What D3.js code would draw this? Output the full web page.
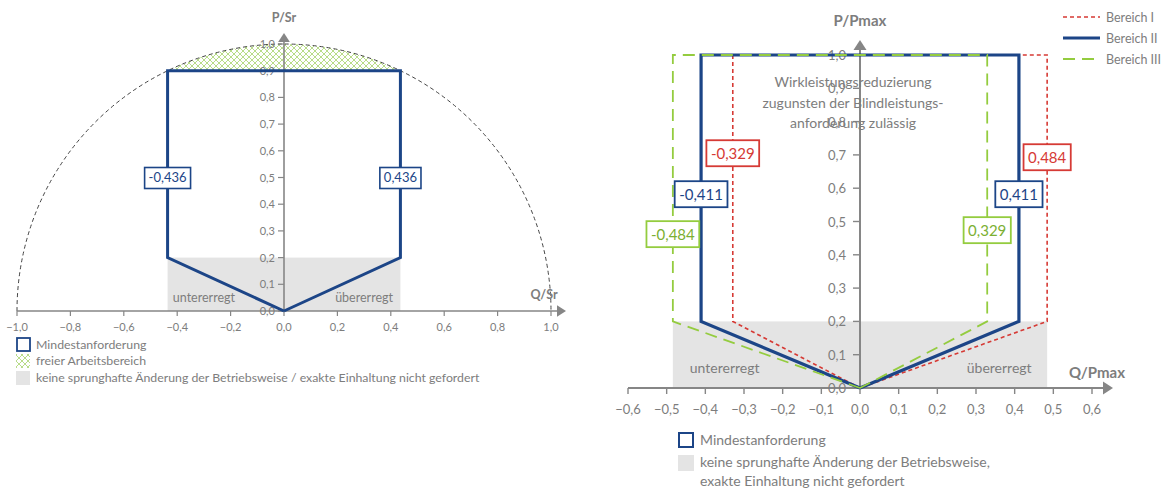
<!DOCTYPE html>
<html><head><meta charset="utf-8">
<script src="https://cdn.jsdelivr.net/npm/d3@7"></script>
<style>
html,body{margin:0;padding:0;background:#fff;}
svg text{font-family:Lato,"Open Sans",sans-serif;}
</style></head>
<body>
<svg id="c" width="1164" height="488"></svg>
<script>
// ---------- data ----------
const leftXTicks = [-1.0,-0.8,-0.6,-0.4,-0.2,0.0,0.2,0.4,0.6,0.8,1.0];
const leftYTicks = [0.0,0.1,0.2,0.3,0.4,0.5,0.6,0.7,0.8,0.9,1.0];
const rightXTicks = [-0.6,-0.5,-0.4,-0.3,-0.2,-0.1,0.0,0.1,0.2,0.3,0.4,0.5,0.6];
const rightYTicks = [0.0,0.1,0.2,0.3,0.4,0.5,0.6,0.7,0.8,0.9,1.0];

const minReqLeft = [[0,0],[-0.436,0.2],[-0.436,0.9],[0.436,0.9],[0.436,0.2],[0,0]];
const grayLeft = [[-0.436,0],[0.436,0.2]];
const hatchLeft = {q:0.436, p:0.9};
const labelsLeft = [{q:-0.436,p:0.5,t:"-0,436"},{q:0.436,p:0.5,t:"0,436"}];

const bereichI   = [[0,0],[-0.329,0.2],[-0.329,1.0],[0.484,1.0],[0.484,0.2],[0,0]];
const bereichII  = [[0,0],[-0.411,0.2],[-0.411,1.0],[0.411,1.0],[0.411,0.2],[0,0]];
const bereichIII = [[0,0],[-0.484,0.2],[-0.484,1.0],[0.329,1.0],[0.329,0.2],[0,0]];
const grayRight = [[-0.484,0],[0.484,0.2]];
const labelsRight = [
  {q:-0.329,p:0.705,t:"-0,329",s:"I"},
  {q:0.484,p:0.693,t:"0,484",s:"I"},
  {q:-0.411,p:0.582,t:"-0,411",s:"II"},
  {q:0.411,p:0.582,t:"0,411",s:"II"},
  {q:-0.484,p:0.462,t:"-0,484",s:"III"},
  {q:0.329,p:0.474,t:"0,329",s:"III"}
];
const seriesNames = ["Bereich I","Bereich II","Bereich III"];
const annotation = ["Wirkleistungsreduzierung","zugunsten der Blindleistungs-","anforderung zulässig"];

// ---------- styles ----------
const BLUE="#1c4587", RED="#d63a35", GREEN="#94cc3f", GREENT="#7cb032";
const GRAYF="#e4e4e4", TXT="#7d7d7d", AX="#868686";
const sty = {
  "I":  {c:RED,  w:1.6, d:"4,3", tc:RED},
  "II": {c:BLUE, w:3.2, d:null, tc:BLUE},
  "III":{c:GREEN,w:1.8, d:"12,7", tc:GREENT}
};

const svg = d3.select("#c");
const fmt = v => d3.format(".1f")(v).replace(".",",").replace("-0,0","0,0");

const defs = svg.append("defs");
const pat = defs.append("pattern").attr("id","hatch").attr("patternUnits","userSpaceOnUse")
  .attr("width",6).attr("height",6);
pat.append("path").attr("d","M0,0L6,6M6,0L0,6").attr("stroke","#b0d87c").attr("stroke-width",0.9).attr("fill","none");

function arrowHead(g, x, y, dir, size, col){
  const s=size;
  let pts = dir==="up" ? [[x,y],[x-s*0.65,y+s],[x+s*0.65,y+s]] : [[x,y],[x-s,y-s*0.65],[x-s,y+s*0.65]];
  g.append("path").attr("d","M"+pts.map(p=>p.join(",")).join("L")+"Z").attr("fill",col);
}

// ================= LEFT CHART =================
const xL = d3.scaleLinear().domain([-1,1]).range([17,551]);
const yL = d3.scaleLinear().domain([0,1]).range([311,44]);
const gL = svg.append("g");
const line = (xs,ys)=>d3.line().x(d=>xs(d[0])).y(d=>ys(d[1]));

gL.append("rect").attr("x",xL(grayLeft[0][0])).attr("y",yL(grayLeft[1][1]))
  .attr("width",xL(grayLeft[1][0])-xL(grayLeft[0][0])).attr("height",yL(0)-yL(grayLeft[1][1]))
  .attr("fill",GRAYF);

const r = xL(1)-xL(0);
const a0 = Math.atan2(-hatchLeft.p, -hatchLeft.q), a1 = Math.atan2(-hatchLeft.p, hatchLeft.q);
const hp = d3.path();
hp.moveTo(xL(-hatchLeft.q), yL(hatchLeft.p));
hp.arc(xL(0), yL(0), r, a0, a1, false);
hp.closePath();
gL.append("path").attr("d",hp.toString()).attr("fill","url(#hatch)");

const cp = d3.path();
cp.moveTo(xL(-1),yL(0)); cp.arc(xL(0),yL(0),r,Math.PI,2*Math.PI,false);
gL.append("path").attr("d",cp.toString()).attr("fill","none").attr("stroke","#444").attr("stroke-width",1).attr("stroke-dasharray","4,3");

gL.append("line").attr("x1",xL(-1)).attr("x2",558).attr("y1",yL(0)).attr("y2",yL(0)).attr("stroke",AX).attr("stroke-width",1.6);
arrowHead(gL,566,yL(0),"right",9,AX);
gL.append("line").attr("x1",xL(0)).attr("x2",xL(0)).attr("y1",yL(0)).attr("y2",41).attr("stroke",AX).attr("stroke-width",1.6);
arrowHead(gL,xL(0),33,"up",9,AX);
gL.selectAll(".xt").data(leftXTicks).join("line").attr("x1",d=>xL(d)).attr("x2",d=>xL(d)).attr("y1",yL(0)).attr("y2",yL(0)+5).attr("stroke",AX).attr("stroke-width",1.2);
gL.selectAll(".xl").data(leftXTicks).join("text").attr("x",d=>xL(d)).attr("y",yL(0)+20).attr("text-anchor","middle").attr("font-size",11).attr("fill",TXT).text(fmt);
gL.selectAll(".yt").data(leftYTicks).join("line").attr("x1",xL(0)-6).attr("x2",xL(0)).attr("y1",d=>yL(d)).attr("y2",d=>yL(d)).attr("stroke",AX).attr("stroke-width",1.2);
gL.selectAll(".yl").data(leftYTicks).join("text").attr("x",xL(0)-9).attr("y",d=>yL(d)+4).attr("text-anchor","end").attr("font-size",11).attr("fill",TXT).text(fmt);
gL.append("text").attr("x",xL(0)).attr("y",22).attr("text-anchor","middle").attr("font-size",12.5).attr("font-weight","bold").attr("fill",TXT).text("P/Sr");
gL.append("text").attr("x",544).attr("y",299).attr("text-anchor","middle").attr("font-size",12.5).attr("font-weight","bold").attr("fill",TXT).text("Q/Sr");

gL.append("path").datum(minReqLeft).attr("d",line(xL,yL)).attr("fill","none").attr("stroke",BLUE).attr("stroke-width",3).attr("stroke-linejoin","miter");

labelsLeft.forEach(l=>{
  const g=gL.append("g").attr("transform",`translate(${xL(l.q)},${yL(l.p)})`);
  const t=g.append("text").attr("text-anchor","middle").attr("y",4.5).attr("font-size",13).attr("fill",BLUE).text(l.t);
  const w=t.node().getComputedTextLength()+8;
  g.insert("rect","text").attr("x",-w/2).attr("y",-10).attr("width",w).attr("height",21).attr("fill","#fff").attr("stroke",BLUE).attr("stroke-width",1.6);
});
gL.append("text").attr("x",xL(-0.3)).attr("y",yL(0.033)).attr("text-anchor","middle").attr("font-size",12.5).attr("fill",TXT).text("untererregt");
gL.append("text").attr("x",xL(0.3)).attr("y",yL(0.033)).attr("text-anchor","middle").attr("font-size",12.5).attr("fill",TXT).text("übererregt");

const lg = gL.append("g").attr("transform","translate(16,337)");
lg.append("rect").attr("x",1).attr("y",1).attr("width",13).attr("height",13).attr("fill","#fff").attr("stroke",BLUE).attr("stroke-width",1.8);
lg.append("text").attr("x",20).attr("y",12).attr("font-size",12.3).attr("fill",TXT).text("Mindestanforderung");
lg.append("rect").attr("x",0).attr("y",17).attr("width",14).attr("height",14).attr("fill","url(#hatch)");
lg.append("text").attr("x",20).attr("y",28).attr("font-size",12.3).attr("fill",TXT).text("freier Arbeitsbereich");
lg.append("rect").attr("x",0).attr("y",34).attr("width",14).attr("height",14).attr("fill",GRAYF);
lg.append("text").attr("x",20).attr("y",45).attr("font-size",12.3).attr("fill",TXT).text("keine sprunghafte Änderung der Betriebsweise / exakte Einhaltung nicht gefordert");

// ================= RIGHT CHART =================
const xR = d3.scaleLinear().domain([-0.6,0.6]).range([628,1092]);
const yR = d3.scaleLinear().domain([0,1]).range([388,55]);
const gR = svg.append("g");
gR.append("rect").attr("x",xR(grayRight[0][0])).attr("y",yR(grayRight[1][1]))
  .attr("width",xR(grayRight[1][0])-xR(grayRight[0][0])).attr("height",yR(0)-yR(grayRight[1][1])).attr("fill",GRAYF);

gR.append("line").attr("x1",xR(-0.6)).attr("x2",1104).attr("y1",yR(0)).attr("y2",yR(0)).attr("stroke",AX).attr("stroke-width",2);
arrowHead(gR,1113,yR(0),"right",10,AX);
gR.append("line").attr("x1",xR(0)).attr("x2",xR(0)).attr("y1",yR(0)).attr("y2",49).attr("stroke",AX).attr("stroke-width",2);
arrowHead(gR,xR(0),40,"up",10,AX);
gR.selectAll(".xt").data(rightXTicks).join("line").attr("x1",d=>xR(d)).attr("x2",d=>xR(d)).attr("y1",yR(0)).attr("y2",yR(0)+6).attr("stroke",AX).attr("stroke-width",1.4);
gR.selectAll(".xl").data(rightXTicks).join("text").attr("x",d=>xR(d)).attr("y",yR(0)+26).attr("text-anchor","middle").attr("font-size",13).attr("fill",TXT).text(fmt);
gR.selectAll(".yt").data(rightYTicks).join("line").attr("x1",xR(0)-7).attr("x2",xR(0)).attr("y1",d=>yR(d)).attr("y2",d=>yR(d)).attr("stroke",AX).attr("stroke-width",1.4);
gR.selectAll(".yl").data(rightYTicks).join("text").attr("x",xR(0)-14).attr("y",d=>yR(d)+5).attr("text-anchor","end").attr("font-size",13).attr("fill",TXT).text(fmt);
gR.append("text").attr("x",xR(0)).attr("y",26).attr("text-anchor","middle").attr("font-size",15).attr("font-weight","bold").attr("fill",TXT).text("P/Pmax");
gR.append("text").attr("x",1097).attr("y",378).attr("text-anchor","middle").attr("font-size",15).attr("font-weight","bold").attr("fill",TXT).text("Q/Pmax");

[["I",bereichI],["II",bereichII],["III",bereichIII]].forEach(([k,d])=>{
  const s=sty[k];
  gR.append("path").datum(d).attr("d",line(xR,yR)).attr("fill","none").attr("stroke",s.c).attr("stroke-width",s.w)
    .attr("stroke-dasharray",s.d).attr("stroke-linejoin","miter");
});

gR.append("g").selectAll("text").data(annotation).join("text").attr("x",853).attr("y",(d,i)=>87+i*20.5)
  .attr("text-anchor","middle").attr("font-size",14).attr("fill",TXT).text(d=>d);

labelsRight.forEach(l=>{
  const s=sty[l.s];
  const g=gR.append("g").attr("transform",`translate(${xR(l.q)},${yR(l.p)})`);
  const t=g.append("text").attr("text-anchor","middle").attr("y",5.5).attr("font-size",15).attr("fill",s.tc).text(l.t);
  const w=t.node().getComputedTextLength()+9;
  g.insert("rect","text").attr("x",-w/2).attr("y",-13).attr("width",w).attr("height",26).attr("fill","#fff").attr("stroke",s.c).attr("stroke-width",1.8);
});
gR.append("text").attr("x",xR(-0.35)).attr("y",yR(0.045)).attr("text-anchor","middle").attr("font-size",14).attr("fill",TXT).text("untererregt");
gR.append("text").attr("x",xR(0.36)).attr("y",yR(0.045)).attr("text-anchor","middle").attr("font-size",14).attr("fill",TXT).text("übererregt");

const sl = gR.append("g").attr("transform","translate(1063,17)");
["I","II","III"].forEach((k,i)=>{
  const s=sty[k];
  sl.append("line").attr("x1",0).attr("x2",37).attr("y1",i*21).attr("y2",i*21).attr("stroke",s.c).attr("stroke-width",s.w).attr("stroke-dasharray",s.d);
  sl.append("text").attr("x",43).attr("y",i*21+4.5).attr("font-size",12.5).attr("fill",TXT).text(seriesNames[i]);
});

const bl = gR.append("g").attr("transform","translate(678,432)");
bl.append("rect").attr("x",1).attr("y",1).attr("width",14).attr("height",14).attr("fill","#fff").attr("stroke",BLUE).attr("stroke-width",2);
bl.append("text").attr("x",22).attr("y",13).attr("font-size",14).attr("fill",TXT).text("Mindestanforderung");
bl.append("rect").attr("x",0).attr("y",23).attr("width",16).attr("height",16).attr("fill",GRAYF);
bl.append("text").attr("x",22).attr("y",35).attr("font-size",14).attr("fill",TXT).text("keine sprunghafte Änderung der Betriebsweise,");
bl.append("text").attr("x",22).attr("y",54).attr("font-size",14).attr("fill",TXT).text("exakte Einhaltung nicht gefordert");
</script>
</body></html>
